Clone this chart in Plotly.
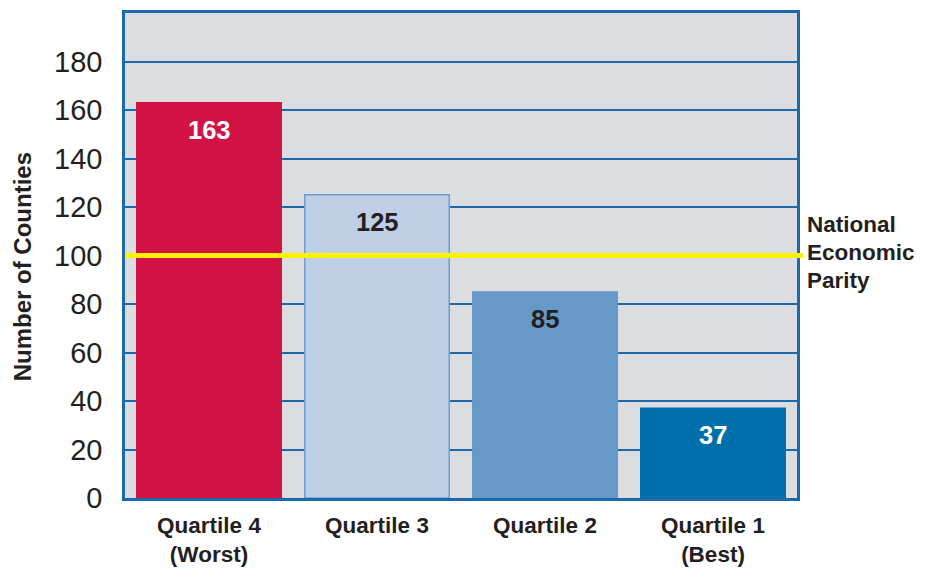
import plotly.graph_objects as go

categories = ["Quartile 4<br>(Worst)", "Quartile 3", "Quartile 2", "Quartile 1<br>(Best)"]
counties = [163, 125, 85, 37]
bar_colors = ["#d21245", "#bfd0e6", "#6698c8", "#0070ad"]
bar_line_colors = ["#d21245", "#6a9fcf", "#6698c8", "#0070ad"]
label_colors = ["#ffffff", "#231f20", "#231f20", "#ffffff"]
parity_value = 100
parity_lines = ["National", "Economic", "Parity"]
y_ticks = [0, 20, 40, 60, 80, 100, 120, 140, 160, 180]
y_title = "Number of Counties"

FONT = "Liberation Sans, Arial, sans-serif"
TEXT = "#231f20"
BLUE = "#1c6aab"

fig = go.Figure()
fig.add_trace(go.Bar(
    x=categories, y=counties,
    marker=dict(color=bar_colors, line=dict(color=bar_line_colors, width=1.5)),
    width=0.86, hoverinfo="skip",
))

for c, v, col in zip(categories, counties, label_colors):
    fig.add_annotation(x=c, y=v, text=f"<b>{v}</b>", showarrow=False,
                       yanchor="middle", yshift=-27,
                       font=dict(family=FONT, size=25.5, color=col))

fig.add_shape(type="line", xref="paper", yref="y", x0=0, x1=1.009,
              y0=parity_value, y1=parity_value,
              line=dict(color="#fff200", width=5), layer="above")

n = len(parity_lines)
for i, line in enumerate(parity_lines):
    fig.add_annotation(xref="paper", yref="y", x=1.012, y=parity_value,
                       text=f"<b>{line}</b>", showarrow=False,
                       xanchor="left", yanchor="middle", align="left",
                       yshift=(((n - 1) / 2) - i) * 28 + 3,
                       font=dict(family=FONT, size=22.5, color=TEXT))

fig.add_annotation(xref="paper", yref="paper", x=-0.153, y=0.476,
                   text=f"<b>{y_title}</b>", showarrow=False, textangle=-90,
                   xanchor="center", yanchor="middle",
                   font=dict(family=FONT, size=24, color=TEXT))

fig.update_layout(
    width=918, height=561,
    margin=dict(l=117, r=129, t=5, b=71, autoexpand=False),
    paper_bgcolor="white", plot_bgcolor="#dcdde0",
    showlegend=False,
)
fig.update_xaxes(
    showline=True, mirror=True, linecolor=BLUE, linewidth=2.5,
    showgrid=False, ticks="", ticklabelstandoff=5, automargin=False,
    tickfont=dict(family=FONT, size=22.5, color=TEXT),
    tickprefix="<b>", ticksuffix="</b>",
)
fig.update_yaxes(
    range=[0, 200], tickvals=y_ticks, automargin=False,
    showline=True, mirror=True, linecolor=BLUE, linewidth=2.5,
    showgrid=True, gridcolor=BLUE, gridwidth=2, zeroline=False,
    ticks="", ticklabelstandoff=14,
    tickfont=dict(family=FONT, size=29, color=TEXT),
)

fig.write_html("out.html")
